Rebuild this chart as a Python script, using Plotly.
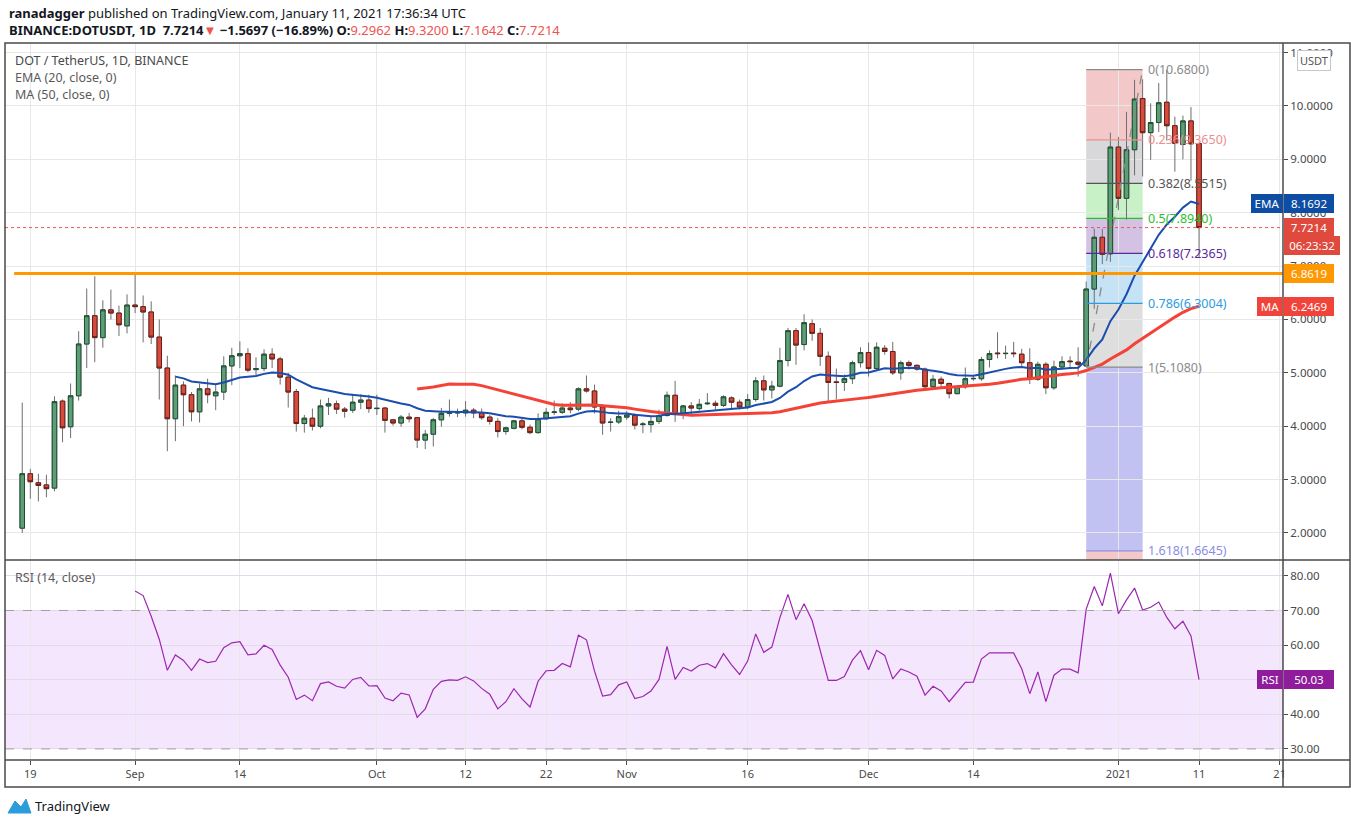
import plotly.graph_objects as go
from plotly.subplots import make_subplots
import pandas as pd

# ---------------------------------------------------------------
# DOTUSDT 1D (Binance), 18 Aug 2020 -> 11 Jan 2021
# ---------------------------------------------------------------
dates = pd.date_range("2020-08-18", "2021-01-11", freq="D")

opens = [
    # Aug 18-31
    2.09, 3.11, 2.94, 2.90, 2.84, 4.47, 3.99, 4.57, 5.54, 6.07, 5.66, 6.18, 6.12, 5.88,
    # Sep
    6.27, 6.24, 6.14, 5.67, 5.09, 4.14, 4.77, 4.59, 4.27, 4.70, 4.57, 4.64, 5.13, 5.32, 5.36,
    5.06, 5.08, 5.35, 5.26, 4.92, 4.65, 4.05, 4.15, 4.00, 4.38, 4.42, 4.32, 4.30, 4.45, 4.49,
    # Oct
    4.33, 4.34, 4.12, 4.06, 4.17, 4.16, 3.74, 3.85, 4.12, 4.24, 4.25, 4.25, 4.30, 4.25, 4.17,
    4.09, 3.90, 3.96, 4.10, 3.98, 3.88, 4.14, 4.26, 4.26, 4.34, 4.32, 4.70, 4.66, 4.36, 4.07, 4.08,
    # Nov
    4.17, 4.20, 4.03, 4.03, 4.09, 4.20, 4.58, 4.23, 4.38, 4.33, 4.42, 4.43, 4.39, 4.53, 4.45,
    4.36, 4.50, 4.85, 4.68, 4.75, 5.23, 5.79, 5.53, 5.92, 5.74, 5.31, 4.83, 4.82, 4.89, 5.19,
    # Dec
    5.38, 5.08, 5.46, 5.40, 5.00, 5.19, 5.14, 5.07, 4.74, 4.88, 4.80, 4.61, 4.74, 4.89, 4.89,
    5.25, 5.37, 5.36, 5.37, 5.35, 5.19, 4.88, 5.16, 4.72, 5.11, 5.22, 5.20, 5.13, 6.57, 7.54, 7.23,
    # Jan
    9.23, 8.27, 9.18, 10.14, 9.50, 9.69, 10.07, 9.63, 9.28, 9.72, 9.2962,
]
highs = [
    4.44, 3.20, 3.11, 3.09, 4.56, 4.50, 4.80, 5.78, 6.58, 6.81, 6.36, 6.56, 6.26, 6.47,
    6.86, 6.45, 6.34, 6.00, 5.32, 4.95, 4.84, 4.64, 4.80, 4.89, 4.78, 5.31, 5.47, 5.59, 5.46,
    5.29, 5.44, 5.46, 5.30, 5.00, 4.70, 4.21, 4.33, 4.50, 4.53, 4.48, 4.36, 4.60, 4.60, 4.59,
    4.59, 4.36, 4.13, 4.21, 4.25, 4.17, 3.93, 4.15, 4.34, 4.50, 4.33, 4.47, 4.34, 4.33, 4.21,
    4.15, 3.99, 4.12, 4.14, 4.03, 4.24, 4.34, 4.48, 4.43, 4.45, 4.73, 4.95, 4.78, 4.41, 4.15, 4.29,
    4.28, 4.24, 4.08, 4.18, 4.31, 4.65, 4.85, 4.40, 4.45, 4.51, 4.62, 4.48, 4.58, 4.56, 4.50,
    4.60, 4.92, 4.95, 4.85, 5.47, 5.84, 5.84, 6.10, 6.00, 5.84, 5.40, 5.08, 4.97, 5.23, 5.48,
    5.57, 5.57, 5.52, 5.58, 5.23, 5.23, 5.16, 5.10, 4.96, 4.93, 4.82, 4.77, 5.10, 4.96, 5.30,
    5.42, 5.76, 5.51, 5.58, 5.45, 5.46, 5.21, 5.20, 5.23, 5.31, 5.31, 5.48, 6.71, 7.70, 7.70, 9.50,
    9.42, 9.89, 10.49, 10.50, 10.05, 10.43, 10.68, 9.80, 9.82, 9.98, 9.32,
]
lows = [
    2.00, 2.64, 2.59, 2.67, 2.78, 3.70, 3.78, 4.48, 5.09, 5.20, 5.47, 6.00, 5.69, 5.74,
    6.12, 5.57, 5.54, 4.50, 3.53, 3.72, 4.00, 4.09, 4.07, 4.43, 4.30, 4.49, 4.77, 5.09, 5.01,
    4.95, 5.03, 5.09, 4.78, 4.35, 3.90, 3.88, 3.92, 3.96, 4.21, 4.23, 4.16, 4.25, 4.32, 4.25,
    4.21, 3.88, 4.01, 3.99, 4.07, 3.59, 3.57, 3.62, 3.99, 4.18, 4.17, 4.18, 4.15, 4.12, 4.03,
    3.79, 3.84, 3.94, 3.94, 3.85, 3.86, 4.12, 4.21, 4.23, 4.24, 4.28, 4.63, 4.24, 3.84, 3.90, 4.04,
    4.12, 3.94, 3.87, 3.88, 4.04, 4.18, 4.08, 4.13, 4.23, 4.29, 4.40, 4.31, 4.36, 4.34, 4.31,
    4.32, 4.46, 4.48, 4.52, 4.73, 5.12, 5.15, 5.42, 5.60, 5.13, 4.45, 4.50, 4.66, 4.79, 5.10,
    4.93, 5.04, 5.34, 4.96, 4.87, 5.06, 5.04, 4.68, 4.69, 4.70, 4.52, 4.60, 4.70, 4.85, 4.85,
    5.10, 5.27, 5.26, 5.29, 5.13, 4.79, 4.85, 4.60, 4.68, 5.07, 5.10, 4.93, 5.108, 6.20, 7.04, 7.08,
    8.05, 7.87, 8.70, 8.68, 8.99, 9.51, 9.35, 8.77, 9.00, 8.60, 7.1642,
]
closes = [
    3.11, 2.96, 2.89, 2.83, 4.46, 3.97, 4.57, 5.54, 6.07, 5.66, 6.18, 6.12, 5.90, 6.27,
    6.24, 6.14, 5.67, 5.09, 4.14, 4.77, 4.59, 4.27, 4.70, 4.59, 4.64, 5.13, 5.32, 5.36, 5.05,
    5.08, 5.35, 5.26, 4.92, 4.64, 4.05, 4.15, 4.00, 4.38, 4.42, 4.32, 4.28, 4.45, 4.49, 4.33,
    4.335, 4.11, 4.06, 4.17, 4.14, 3.74, 3.85, 4.12, 4.24, 4.26, 4.255, 4.30, 4.25, 4.16, 4.09,
    3.90, 3.97, 4.10, 3.98, 3.88, 4.14, 4.26, 4.265, 4.34, 4.31, 4.70, 4.66, 4.36, 4.06, 4.075, 4.18,
    4.21, 4.02, 4.04, 4.09, 4.20, 4.58, 4.23, 4.38, 4.34, 4.41, 4.43, 4.39, 4.55, 4.45, 4.36,
    4.50, 4.85, 4.68, 4.75, 5.23, 5.79, 5.52, 5.94, 5.74, 5.31, 4.82, 4.82, 4.89, 5.19, 5.38,
    5.08, 5.48, 5.40, 5.00, 5.19, 5.14, 5.07, 4.74, 4.88, 4.80, 4.61, 4.74, 4.89, 4.895, 5.25,
    5.36, 5.36, 5.365, 5.36, 5.19, 4.88, 5.16, 4.72, 5.11, 5.21, 5.21, 5.16, 6.57, 7.54, 7.22, 9.23,
    8.27, 9.18, 10.13, 9.50, 9.69, 10.06, 9.63, 9.30, 9.72, 9.2911, 7.7214,
]

# drawings / levels shown on the chart
support_level = 6.8619
last_price = 7.7214
fib_ratios = ["0", "0.236", "0.382", "0.5", "0.618", "0.786", "1", "1.618"]
fib_prices = [10.68, 9.365, 8.5515, 7.894, 7.2365, 6.3004, 5.108, 1.6645]
fib_start, fib_end = "2020-12-28", "2021-01-04"

tick_dates = ["2020-08-19", "2020-09-01", "2020-09-14", "2020-10-01", "2020-10-12",
              "2020-10-22", "2020-11-01", "2020-11-16", "2020-12-01", "2020-12-14",
              "2021-01-01", "2021-01-11", "2021-01-21"]
tick_text = ["19", "Sep", "14", "Oct", "12", "22", "Nov", "16", "Dec", "14", "2021", "11", "21"]


# ---------------------------------------------------------------
# indicators, TradingView style (sma-seeded ema / rma)
# ---------------------------------------------------------------
def ema_tv(vals, n):
    out = [None] * len(vals)
    out[n - 1] = sum(vals[:n]) / n
    a = 2 / (n + 1)
    for i in range(n, len(vals)):
        out[i] = a * vals[i] + (1 - a) * out[i - 1]
    return out


def rsi_tv(vals, n):
    out = [None] * len(vals)
    ch = [vals[i] - vals[i - 1] for i in range(1, len(vals))]
    g = [max(c, 0) for c in ch]
    l = [max(-c, 0) for c in ch]
    ag, al = sum(g[:n]) / n, sum(l[:n]) / n
    out[n] = 100 - 100 / (1 + ag / al)
    for i in range(n, len(ch)):
        ag = (ag * (n - 1) + g[i]) / n
        al = (al * (n - 1) + l[i]) / n
        out[i + 1] = 100 - 100 / (1 + ag / al)
    return out


ema20 = ema_tv(closes, 20)
ma50 = pd.Series(closes).rolling(50).mean().tolist()
rsi14 = rsi_tv(closes, 14)

body_hi = [max(o, c) for o, c in zip(opens, closes)]
body_lo = [min(o, c) for o, c in zip(opens, closes)]

# ---------------------------------------------------------------
# pixel helpers (plot area 5..1283 x 43..760)
# ---------------------------------------------------------------
PL, PR, PT, PB = 5, 1283, 43, 760


def px(x):
    return (x - PL) / (PR - PL)


def py(y):
    return (PB - y) / (PB - PT)


UP, DN = "#5E9E77", "#D64B3B"
UP_LN, DN_LN = "#1F4F33", "#6A1F17"
WICK = "#6E6E70"
FONT = "Noto Sans"

fig = make_subplots(rows=2, cols=1, shared_xaxes=True, vertical_spacing=0,
                    row_heights=[0.721, 0.279])

# wicks
fig.add_trace(go.Candlestick(
    x=dates, open=opens, high=highs, low=lows, close=closes,
    increasing=dict(line=dict(color=WICK, width=1), fillcolor=UP),
    decreasing=dict(line=dict(color=WICK, width=1), fillcolor=DN),
    name="DOTUSDT", showlegend=False, hoverinfo="skip"), row=1, col=1)
# bodies with dark outline
fig.add_trace(go.Candlestick(
    x=dates, open=opens, high=body_hi, low=body_lo, close=closes,
    increasing=dict(line=dict(color=UP_LN, width=1), fillcolor=UP),
    decreasing=dict(line=dict(color=DN_LN, width=1), fillcolor=DN),
    name="DOTUSDT", showlegend=False), row=1, col=1)

fig.add_trace(go.Scatter(x=dates, y=ma50, mode="lines", name="MA",
                         line=dict(color="#F44336", width=3), showlegend=False), row=1, col=1)
fig.add_trace(go.Scatter(x=dates, y=ema20, mode="lines", name="EMA",
                         line=dict(color="#1A4DAE", width=2), showlegend=False), row=1, col=1)
fig.add_trace(go.Scatter(x=dates, y=rsi14, mode="lines", name="RSI",
                         line=dict(color="#9C27B0", width=1.2), showlegend=False), row=2, col=1)

shapes = []
# fib zones
zone_cols = ["#F3C8C8", "#D8D8DB", "#C8F1C8", "#D4C2E4", "#C6E2F5", "#DEDEDE", "#C2C2F2"]
for i, zc in enumerate(zone_cols):
    shapes.append(dict(type="rect", xref="x", yref="y", x0=fib_start, x1=fib_end,
                       y0=fib_prices[i], y1=fib_prices[i + 1], fillcolor=zc,
                       line=dict(width=0), layer="below"))
shapes.append(dict(type="rect", xref="x", yref="y", x0=fib_start, x1=fib_end,
                   y0=fib_prices[-1], y1=-5, fillcolor="#F3C8C8", line=dict(width=0), layer="below"))
line_cols = ["#8A8A8A", "#EE8E8E", "#555555", "#2DBE2D", "#5B2A9E", "#2E9BE0", "#8A8A8A", "#8C8CE6"]
for pr, lc in zip(fib_prices, line_cols):
    shapes.append(dict(type="line", xref="x", yref="y", x0=fib_start, x1=fib_end,
                       y0=pr, y1=pr, line=dict(color=lc, width=1.3)))
shapes.append(dict(type="line", xref="x", yref="y", x0=fib_start, x1=fib_end,
                   y0=fib_prices[6], y1=fib_prices[0],
                   line=dict(color="#8A8A8A", width=1.3, dash="dash")))
# horizontal drawings
shapes.append(dict(type="line", xref="x", yref="y", x0="2020-08-17", x1="2021-01-21 10:00",
                   y0=support_level, y1=support_level, line=dict(color="#FF9800", width=3)))
shapes.append(dict(type="line", xref="x", yref="y", x0="2020-08-15 20:40", x1="2021-01-21 10:00",
                   y0=last_price, y1=last_price, line=dict(color="#EF5350", width=1, dash="dot")))
# RSI band
shapes.append(dict(type="rect", xref="x2 domain", yref="y2", x0=0, x1=1, y0=30, y1=70,
                   fillcolor="#F4E6FC", line=dict(width=0), layer="below"))
for lv in (30, 70):
    shapes.append(dict(type="line", xref="x2 domain", yref="y2", x0=0, x1=1, y0=lv, y1=lv,
                       line=dict(color="#A0A0A6", width=1, dash="dash")))
# frames
frame = "#4A4A4A"
shapes.append(dict(type="rect", xref="paper", yref="paper", x0=px(5), x1=px(1350),
                   y0=py(787), y1=py(43), line=dict(color=frame, width=1.5)))
shapes.append(dict(type="line", xref="paper", yref="paper", x0=px(5), x1=px(1350),
                   y0=py(560), y1=py(560), line=dict(color=frame, width=1.5)))
shapes.append(dict(type="line", xref="paper", yref="paper", x0=px(5), x1=px(1350),
                   y0=py(760), y1=py(760), line=dict(color=frame, width=1.5)))
shapes.append(dict(type="line", xref="paper", yref="paper", x0=px(1283), x1=px(1283),
                   y0=py(787), y1=py(43), line=dict(color=frame, width=1.5)))
# TradingView logo mark
logo = "M {} {} L {} {} L {} {} L {} {} L {} {} Z".format(
    px(8), py(813), px(15), py(801), px(21), py(807), px(26), py(799), px(31), py(813))
shapes.append(dict(type="path", xref="paper", yref="paper", path=logo,
                   fillcolor="#2D9CDB", line=dict(color="#2D9CDB", width=1)))

ann = []


def txt(x, y, t, size=12.5, color="#4A4A4A", **kw):
    ann.append(dict(xref="paper", yref="paper", x=px(x), y=py(y), text=t, showarrow=False,
                    xanchor="left", yanchor="middle", font=dict(family=FONT, size=size, color=color), **kw))


red = "#EF5350"
txt(7, 13, "<b>ranadagger</b> published on TradingView.com, January 11, 2021 17:36:34 UTC",
    size=13, color="#131722")
txt(7, 30, "<b>BINANCE:DOTUSDT, 1D</b>  <b>7.7214</b><span style='color:%s'>▼</span> "
           "<b>−1.5697 (−16.89%%)</b> <b>O:</b><span style='color:%s'>9.2962</span> "
           "<b>H:</b><span style='color:%s'>9.3200</span> <b>L:</b><span style='color:%s'>7.1642</span> "
           "<b>C:</b><span style='color:%s'>7.7214</span>" % (red, red, red, red, red),
    size=13, color="#131722")
txt(13, 60, "DOT / TetherUS, 1D, BINANCE", size=12.5, color="#4A4A4A")
txt(13, 78, "EMA (20, close, 0)", size=12.5, color="#5A5A5A")
txt(13, 94, "MA (50, close, 0)", size=12.5, color="#5A5A5A")
txt(13, 577, "RSI (14, close)", size=12.5, color="#5A5A5A")
txt(33, 806, "TradingView", size=13, color="#131722")

# fib labels
lab_cols = ["#8A8A8A", "#EE8E8E", "#555555", "#2DBE2D", "#5B2A9E", "#2E9BE0", "#8A8A8A", "#8C8CE6"]
for r, pr, lc in zip(fib_ratios, fib_prices, lab_cols):
    ann.append(dict(xref="x", yref="y", x="2021-01-04 09:00", y=pr, text="%s(%.4f)" % (r, pr),
                    showarrow=False, xanchor="left", yanchor="middle",
                    font=dict(family=FONT, size=12.5, color=lc)))


def tag(y, yref, t, bg, right_side=True, w=46, fc="white", border=None):
    ann.append(dict(xref="paper", yref=yref, x=px(1284) if right_side else px(1283), y=y,
                    text=t, showarrow=False, xanchor="left" if right_side else "right",
                    yanchor="middle", bgcolor=bg, width=w, height=15, borderpad=1,
                    bordercolor=border or bg, borderwidth=1,
                    font=dict(family=FONT, size=11.5, color=fc)))


tag(8.1692, "y", "8.1692", "#0E4DA4")
tag(8.1692, "y", "EMA", "#0E4DA4", right_side=False, w=28)
tag(7.7214, "y", "7.7214", "#E0493D")
tag(7.7214 - 0.34, "y", "06:23:32", "#E0493D", w=52)
tag(6.8619, "y", "6.8619", "#FF9800")
tag(6.2469, "y", "6.2469", "#F0443A")
tag(6.2469, "y", "MA", "#F0443A", right_side=False, w=22)
tag(50.03, "y2", "50.03", "#8E1C9B")
tag(50.03, "y2", "RSI", "#8E1C9B", right_side=False, w=22)
ann.append(dict(xref="paper", yref="paper", x=px(1314), y=py(60), text="USDT", showarrow=False,
                xanchor="center", yanchor="middle", bgcolor="white", bordercolor="#C8C8C8",
                borderwidth=1, borderpad=2, font=dict(family=FONT, size=11, color="#555")))

fig.update_layout(
    width=1351, height=824,
    margin=dict(l=PL, r=1351 - PR, t=PT, b=824 - PB),
    paper_bgcolor="white", plot_bgcolor="white",
    showlegend=False, boxgap=0.2, boxgroupgap=0.3,
    shapes=shapes, annotations=ann,
    font=dict(family=FONT, size=11, color="#4A4A4A"),
)
xr = ["2020-08-15 20:40", "2021-01-21 10:00"]
fig.update_xaxes(range=xr, tickvals=tick_dates, ticktext=tick_text, showgrid=True,
                 gridcolor="#E8E8E8", gridwidth=1, zeroline=False, showline=False,
                 rangeslider_visible=False)
fig.update_xaxes(showticklabels=False, ticks="", row=1, col=1)
fig.update_xaxes(ticks="outside", ticklen=4, tickcolor="#4A4A4A",
                 tickfont=dict(family=FONT, size=11, color="#4A4A4A"), row=2, col=1)
fig.update_yaxes(side="right", range=[1.494, 11.18], dtick=1, tick0=0, tickformat=".4f",
                 showgrid=True, gridcolor="#E8E8E8", zeroline=False, ticks="outside",
                 ticklen=4, tickcolor="#4A4A4A", tickfont=dict(family=FONT, size=11.5, color="#4A4A4A"),
                 row=1, col=1)
fig.update_yaxes(side="right", range=[26.8, 84.6], tickvals=[30, 40, 50, 60, 70, 80],
                 tickformat=".2f", showgrid=True, gridcolor="#E4D9EA", zeroline=False,
                 ticks="outside", ticklen=4, tickcolor="#4A4A4A",
                 tickfont=dict(family=FONT, size=11.5, color="#4A4A4A"), row=2, col=1)

# the page body has a default 8px margin; drop it so the figure sits at 0,0
fig.write_html("out.html", config={"displayModeBar": False},
               post_script="document.body.style.margin='0px';")
